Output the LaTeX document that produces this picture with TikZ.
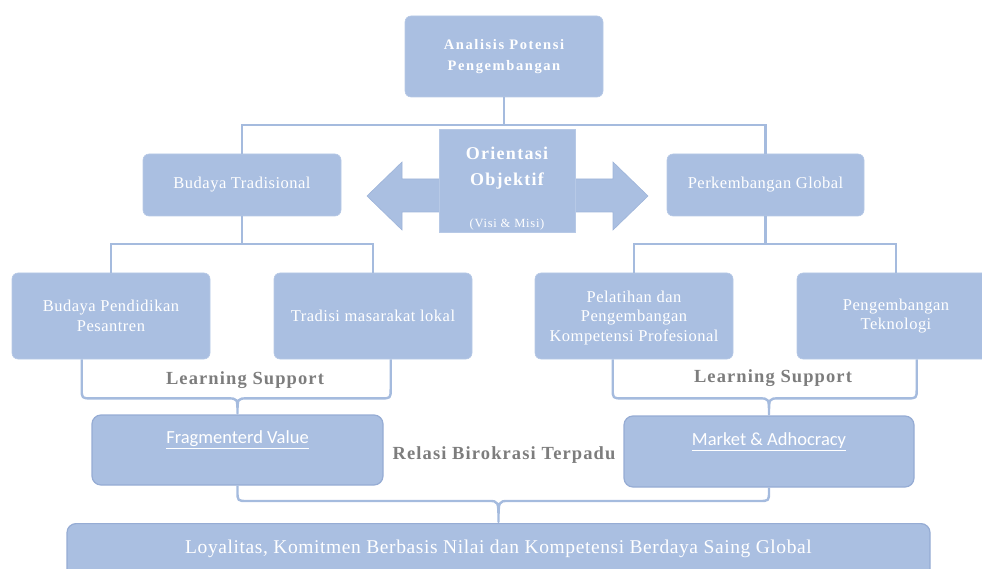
\documentclass[tikz,border=0pt]{standalone}
\usepackage{fontspec}
\setmainfont{Liberation Serif}
\newfontfamily\carl{Carlito}
\usetikzlibrary{calc}
\definecolor{boxblue}{RGB}{170,191,225}
\definecolor{edgeblue}{RGB}{150,172,212}
\definecolor{linec}{RGB}{165,187,222}
\definecolor{labgray}{RGB}{125,125,125}
\newcommand{\bodyf}{\fontsize{16.5}{19.5}\selectfont\addfontfeature{LetterSpace=3}}
\newcommand{\labf}{\fontsize{18.5}{20}\selectfont\bfseries\addfontfeature{LetterSpace=6}}
\begin{document}
\begin{tikzpicture}[x=1pt,y=-1pt,
  box/.style={draw=boxblue!85!white,line width=0.6pt,fill=boxblue,rounded corners=6pt,
    text=white,align=center,inner sep=0pt,font=\bodyf},
  sbox/.style={box,draw=edgeblue,line width=1.2pt,rounded corners=9pt},
  conn/.style={draw=linec,line width=2.4pt},
  brc/.style={draw=linec,line width=2.4pt,line join=round},
  lab/.style={text=labgray,font=\labf,inner sep=0pt},
  wtxt/.style={text=white,inner sep=0pt,align=center}]
\useasboundingbox (0,0) rectangle (982,569);
% level 1
\node[box,minimum width=198pt,minimum height=81pt,
  font=\fontsize{14.5}{21}\selectfont\bfseries\addfontfeature{LetterSpace=11}]
  (top) at (504,56.5) {Analisis Potensi\\Pengembangan};
% level 2
\node[box,minimum width=198pt,minimum height=62pt] (bt) at (242,185) {Budaya Tradisional};
\node[box,minimum width=197pt,minimum height=62pt] (pg) at (765.5,185) {Perkembangan Global};
% central double arrow
\coordinate (oc) at (507,196);
\fill[boxblue,draw=edgeblue!60!boxblue,line width=0.6pt]
  ($(oc)+(-140,0)$) -- ($(oc)+(-105,-34)$) -- ($(oc)+(-105,-17)$) -- ($(oc)+(106,-17)$)
  -- ($(oc)+(106,-34)$) -- ($(oc)+(141,0)$) -- ($(oc)+(106,34)$) -- ($(oc)+(106,16)$)
  -- ($(oc)+(-105,16)$) -- ($(oc)+(-105,34)$) -- cycle;
\node[box,rounded corners=0pt,minimum width=136pt,minimum height=103pt] (oo) at (507,180.5) {};
\node[wtxt,font=\fontsize{18}{26}\selectfont\bfseries\addfontfeature{LetterSpace=7}] (ootxt)
  at (507,168) {Orientasi\\Objektif};
\node[wtxt,font=\fontsize{12.5}{14}\selectfont\addfontfeature{LetterSpace=6}] (vm) at (507,224) {(Visi \& Misi)};
% level 3
\node[box,minimum width=198pt,minimum height=86pt] (bp) at (111,316) {Budaya Pendidikan\\Pesantren};
\node[box,minimum width=198pt,minimum height=86pt] (tm) at (373,316) {Tradisi masarakat lokal};
\node[box,minimum width=198pt,minimum height=86pt] (pl) at (634,316) {};
\node[wtxt,font=\bodyf] (plt) at (634,318) {Pelatihan dan\\Pengembangan\\Kompetensi Profesional};
\node[box,minimum width=198pt,minimum height=86pt] (pt) at (896,316) {Pengembangan\\Teknologi};
% level 4
\node[sbox,minimum width=291pt,minimum height=70pt] (fv) at (237.5,450) {};
\node[wtxt,font=\carl\fontsize{18.5}{20}\selectfont] (fvt) at ($(fv.north)+(0,25)$) {\underline{Fragmenterd Value}};
\node[sbox,minimum width=290pt,minimum height=71pt] (mk) at (769,451.5) {};
\node[wtxt,font=\carl\fontsize{18.5}{20}\selectfont] (mkt) at ($(mk.north)+(0,26)$) {\underline{Market \& Adhocracy}};
% bottom
\node[sbox,minimum width=863pt,minimum height=60pt,anchor=north] (bot) at (498.5,523) {};
\node[wtxt,font=\fontsize{19.5}{22}\selectfont\addfontfeature{LetterSpace=3}] (bott) at (498.5,549)
  {Loyalitas, Komitmen Berbasis Nilai dan Kompetensi Berdaya Saing Global};
% connectors
\draw[conn] (top.south) -- ++(0,28) coordinate (tj);
\draw[conn] (bt.north) |- (tj) -| (pg.north);
\draw[conn] (bt.south) -- ++(0,28) coordinate (bj);
\draw[conn] (bp.north) |- (bj) -| (tm.north);
\draw[conn] (pg.south) -- ++(0,28) coordinate (pj);
\draw[conn] (pl.north) |- (pj) -| (pt.north);
% braces
\coordinate (b1a) at ($(bp.south west)+(70,0)$);
\coordinate (b1b) at ($(tm.south west)+(117,0)$);
\coordinate (b2a) at ($(pl.south west)+(78,0)$);
\coordinate (b2b) at ($(pt.south west)+(120,0)$);
\newcommand{\mybrace}[4]{%
  \draw[brc] let \p1=(#1), \p2=(#2), \p3=(#3) in
    (\x1,\y1) -- (\x1,\y3+#4+10pt) .. controls (\x1,\y3+#4) .. (\x1+10pt,\y3+#4)
    -- (\x3-10pt,\y3+#4) .. controls (\x3,\y3+#4) .. (\x3,\y3+1pt)
    .. controls (\x3,\y3+#4) .. (\x3+10pt,\y3+#4)
    -- (\x2-10pt,\y3+#4) .. controls (\x2,\y3+#4) .. (\x2,\y3+#4+10pt) -- (\x2,\y2);}
\mybrace{b1a}{b1b}{fv.north}{16pt}
\mybrace{b2a}{b2b}{mk.north}{17pt}
\mybrace{fv.south}{mk.south}{bot.north}{22pt}
% labels
\node[lab] (ls1) at (245,380) {Learning Support};
\node[lab] (ls2) at (773,378) {Learning Support};
\node[lab] (rb) at (504,455) {Relasi Birokrasi Terpadu};
\end{tikzpicture}
\end{document}
